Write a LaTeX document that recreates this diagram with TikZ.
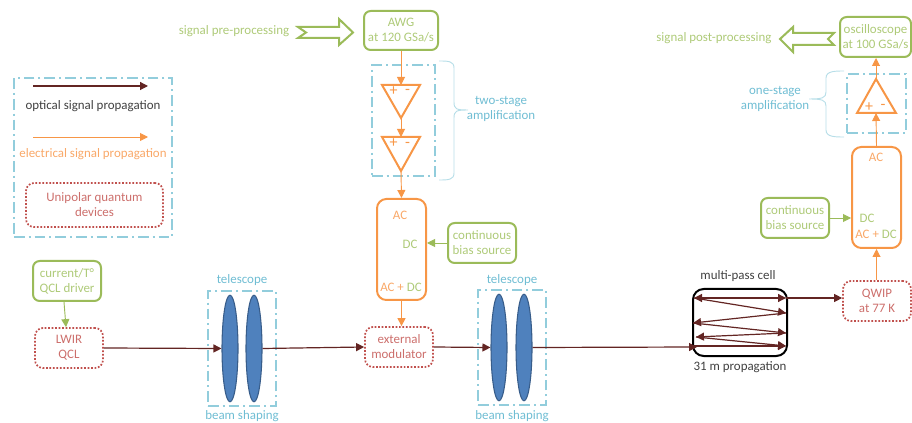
\documentclass[tikz,border=0pt]{standalone}
\usepackage{fontspec}
\setmainfont{Carlito}
\usetikzlibrary{arrows.meta,shapes.geometric}
\definecolor{cgreen}{HTML}{9BBB59}
\definecolor{ctgreen}{HTML}{AECA78}
\definecolor{corange}{HTML}{F79646}
\definecolor{ctorange}{HTML}{F9A868}
\definecolor{cblue}{HTML}{92CDDC}
\definecolor{ctblue}{HTML}{6FBDD3}
\definecolor{cbrace}{HTML}{B7DEE8}
\definecolor{cred}{HTML}{C0504D}
\definecolor{ctred}{HTML}{CC6E6B}
\definecolor{cdark}{HTML}{632523}
\definecolor{cell}{HTML}{4F81BD}
\definecolor{cellb}{HTML}{385D8A}
\definecolor{ctext}{HTML}{404040}
\tikzset{
  x=0.75pt,y=-0.75pt,
  every node/.style={font=\fontsize{9.7}{11.25}\selectfont,align=center,inner sep=0pt},
  greenbox/.style={draw=cgreen,line width=1.5pt,rounded corners=5pt,text=ctgreen},
  orangebox/.style={draw=corange,line width=1.5pt,rounded corners=7pt},
  redbox/.style={draw=cred,line width=1.3pt,dash pattern=on 1.3pt off 1.3pt,rounded corners=6pt,text=ctred},
  blackbox/.style={draw=black,line width=1.5pt,rounded corners=8pt},
  bluebox/.style={draw=cblue,line width=1.3pt,dash pattern=on 8pt off 3pt on 1.5pt off 3pt},
  lens/.style={ellipse,draw=cellb,line width=0.8pt,fill=cell},
  optic/.style={draw=cdark,line width=0.9pt,-{Triangle[length=6pt,width=6pt]}},
  opticboth/.style={draw=cdark,line width=0.9pt,{Triangle[length=6pt,width=6pt]}-{Triangle[length=6pt,width=6pt]}},
  elec/.style={draw=corange,line width=0.7pt,-{Triangle[length=6pt,width=6pt]}},
  bias/.style={draw=cgreen,line width=0.7pt,-{Triangle[length=6pt,width=6pt]}},
  hollow/.style={draw=cgreen,line width=1.5pt,fill=white,line join=miter},
  amp/.style={draw=corange,line width=1.5pt,line join=miter},
  brace/.style={draw=cbrace,line width=0.7pt},
  gtext/.style={text=ctgreen},
  otext/.style={text=ctorange},
  btext/.style={text=ctblue},
  ktext/.style={text=ctext},
  sign/.style={text=corange,font=\fontsize{12}{12}\selectfont},
}
% \bx[style]{name}{x1}{y1}{x2}{y2}{text}
\newcommand{\bx}[7][]{%
  \pgfmathsetmacro{\bxw}{(#5-#3)*0.75}\pgfmathsetmacro{\bxh}{(#6-#4)*0.75}%
  \pgfmathsetmacro{\bxcx}{(#3+#5)/2}\pgfmathsetmacro{\bxcy}{(#4+#6)/2}%
  \node[#1,minimum width=\bxw pt,minimum height=\bxh pt] (#2) at (\bxcx,\bxcy) {#7};}
\begin{document}
\begin{tikzpicture}
\useasboundingbox (0,0) rectangle (912,423);
% legend
\bx[bluebox]{legend}{14}{78}{172}{237}{}
\coordinate (l1a) at (33,86); \coordinate (l1b) at (148,86);
\coordinate (l2a) at (33,137); \coordinate (l2b) at (148,137);
\draw[optic] (l1a) -- (l1b);
\draw[elec] (l2a) -- (l2b);
\node[ktext] (loptic) at (93,106) {optical signal propagation};
\node[otext] (lelec) at (93,154) {electrical signal propagation};
\bx[redbox]{luqd}{26}{183}{163}{227}{Unipolar quantum\\devices}
% top middle
\node[gtext] (pre) at (234,31) {signal pre-processing};
\draw[hollow] (298,27)--(339,27)--(339,19)--(353,32.5)--(339,45)--(339,38)--(298,38)--(306,32.5)--cycle;
\bx[greenbox]{awg}{364}{11}{438}{50}{AWG\\at 120 GSa/s}
\bx[bluebox]{ampbox}{372}{65}{435}{176}{}
\coordinate (t1l) at (382,85); \coordinate (t1r) at (420,85); \coordinate (t1t) at (401,118); \coordinate (t1m) at (401,85);
\coordinate (t2l) at (382,137); \coordinate (t2r) at (420,137); \coordinate (t2t) at (401,171); \coordinate (t2m) at (401,137);
\draw[amp] (t1l)--(t1r)--(t1t)--cycle;
\draw[amp] (t2l)--(t2r)--(t2t)--cycle;
\node[sign] (t1p) at (393.5,91) {+}; \node[sign] (t1n) at (407.5,92) {-};
\node[sign] (t2p) at (393.5,143) {+}; \node[sign] (t2n) at (407.5,145) {-};
\draw[brace] (439,61) .. controls (448,61) and (454,61) .. (454,68) -- (454,102) .. controls (454,109) and (456,110) .. (468,110) .. controls (456,110) and (454,111) .. (454,118) -- (454,173) .. controls (454,180) and (448,180) .. (439,180);
\node[btext] (two) at (501,108.5) {two-stage\\amplification};
\bx[orangebox]{acl}{377}{199}{426}{300}{}
\node[otext] (aclac) at (400,215) {AC};
\node[gtext] (acldc) at (410,244) {DC};
\node (aclsum) at (401,287) {\textcolor{ctorange}{AC + }\textcolor{ctgreen}{DC}};
\bx[greenbox]{biasl}{448}{223}{516}{263}{continuous\\bias source}
\draw[elec] (awg.south) -- (t1m);
\draw[elec] (t1t) -- (t2m);
\draw[elec] (t2t) -- (acl.north);
\draw[bias] (biasl.west) -- (acl.east |- biasl.west);
% lower row
\bx[greenbox]{drv}{33}{261}{101}{301}{current/T°\\QCL driver}
\bx[redbox]{qcl}{35}{328}{103}{368}{LWIR\\QCL}
\bx[bluebox]{tel1}{208}{291}{276}{406}{}
\node[lens,minimum width=12pt,minimum height=80pt] (e1) at (230,348.5) {};
\node[lens,minimum width=12pt,minimum height=80pt] (e2) at (254,348.5) {};
\node[btext] (tl1) at (242,280) {telescope};
\node[btext] (bs1) at (242,416) {beam shaping};
\bx[redbox]{mod}{365}{327}{433}{367}{external\\modulator}
\bx[bluebox]{tel2}{478}{290}{546}{405}{}
\node[lens,minimum width=12pt,minimum height=80pt] (e3) at (499,347.5) {};
\node[lens,minimum width=12pt,minimum height=80pt] (e4) at (524,347.5) {};
\node[btext] (tl2) at (512,280) {telescope};
\node[btext] (bs2) at (512,416) {beam shaping};
\bx[blackbox]{cell}{693}{289}{787}{356}{}
\node[ktext] (mpc) at (738,276) {multi-pass cell};
\node[ktext] (prop) at (740,367) {31 m propagation};
\bx[redbox]{qwip}{843}{281}{911}{321}{QWIP\\at 77 K}
\draw[bias] ([xshift=-2.25pt]drv.south) -- ([xshift=-2.25pt]qcl.north);
\draw[optic] (qcl.east) -- (e1.west);
\draw[optic] (e2.east) -- (mod.west);
\draw[elec] (acl.south) -- (mod.north -| acl.south);
\draw[optic] (mod.east) -- (e3.west);
\coordinate (cin) at (697,347);
\draw[optic] (e4.east) -- (cin);
% multi-pass zigzag
\coordinate (p0) at (694,298); \coordinate (p1) at (786,298);
\coordinate (p2) at (786,313); \coordinate (p3) at (693,323);
\coordinate (p4) at (786,333); \coordinate (p5) at (696,337);
\coordinate (p6) at (786,346); \coordinate (p7) at (693,346);
\draw[opticboth] (p0) -- (p1);
\draw[optic] (p0) -- (p2);
\draw[optic] (p2) -- (p3);
\draw[optic] (p3) -- (p4);
\draw[optic] (p4) -- (p5);
\draw[optic] (p5) -- (p6);
\draw[optic] (p7) -- (p6);
\draw[optic] (p1) -- (qwip.west |- p1);
% right column
\bx[orangebox]{acr}{852}{147}{901}{248}{}
\node[otext] (acrac) at (876,157) {AC};
\node[gtext] (acrdc) at (867,218) {DC};
\node (acrsum) at (876,234) {\textcolor{ctorange}{AC + }\textcolor{ctgreen}{DC}};
\bx[greenbox]{biasr}{761}{198}{829}{238}{continuous\\bias source}
\draw[bias] (biasr.east) -- (acr.west |- biasr.east);
\draw[elec] (qwip.north -| acr.south) -- (acr.south);
\bx[bluebox]{ampr}{847}{74}{906}{133}{}
\coordinate (t3a) at (876,79); \coordinate (t3l) at (857,113); \coordinate (t3r) at (896,113); \coordinate (t3m) at (876,113);
\draw[amp] (t3l)--(t3r)--(t3a)--cycle;
\node[sign] (t3p) at (869,107) {+}; \node[sign] (t3n) at (883,107) {-};
\draw[elec] (acr.north) -- (t3m);
\bx[greenbox]{osc}{840}{17}{911}{57}{oscilloscope\\at 100 GSa/s}
\draw[elec] (t3a) -- (t3a |- osc.south);
\draw[brace] (844,71) .. controls (835,71) and (826,71) .. (826,78) -- (826,92) .. controls (826,98) and (822,99) .. (809,99) .. controls (822,99) and (826,100) .. (826,106) -- (826,130) .. controls (826,137) and (835,137) .. (844,137);
\node[btext] (one) at (775,98.5) {one-stage\\amplification};
\draw[hollow] (834,33)--(793,33)--(793,27)--(780,39)--(793,52)--(793,45)--(834,45)--(828,39)--cycle;
\node[gtext] (post) at (714,38) {signal post-processing};
\end{tikzpicture}
\end{document}
